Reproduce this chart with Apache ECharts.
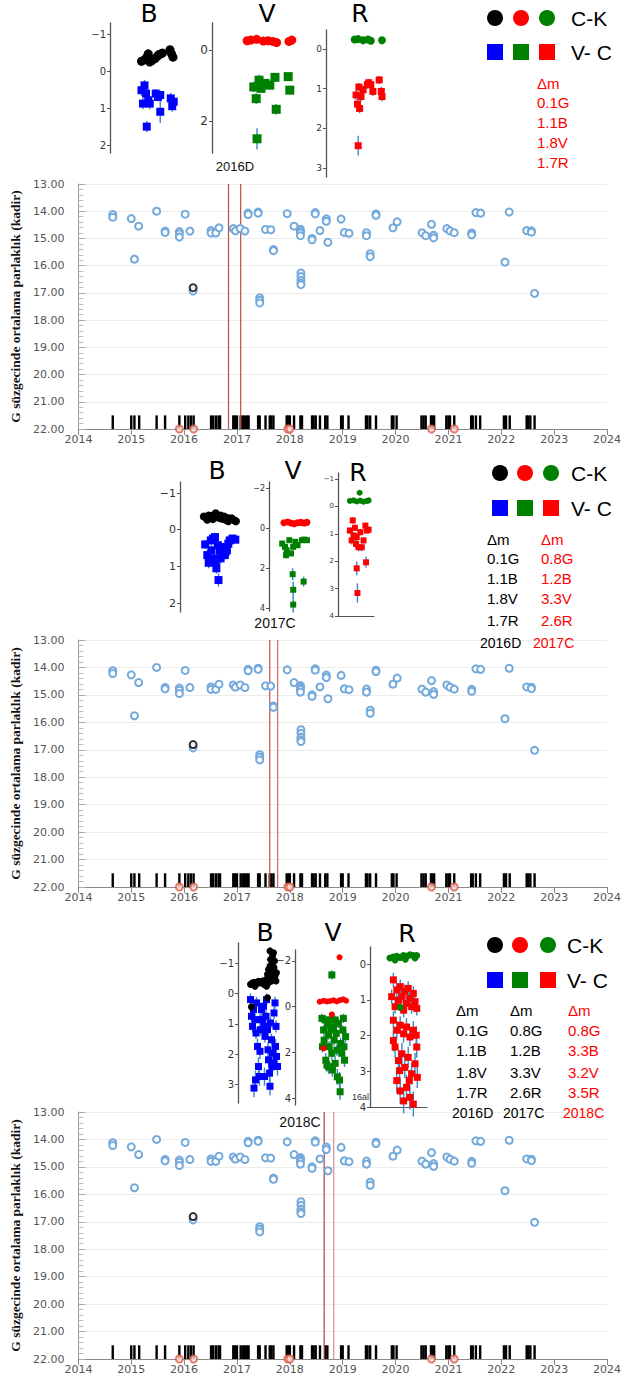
<!DOCTYPE html>
<html><head><meta charset="utf-8">
<script src="https://cdn.jsdelivr.net/npm/echarts@6/dist/echarts.min.js"></script>
<style>html,body{margin:0;padding:0;background:#fff}#c{width:627px;height:1380px}</style>
</head><body><div id="c"></div><script>
// ---------- main light-curve data (year, G mag) ----------
const gaiaMag = [
[2014.65,14.12],[2014.65,14.22],[2015.0,14.27],[2015.06,15.76],[2015.14,14.55],[2015.48,14.0],[2015.64,14.73],[2015.64,14.78],
[2015.91,14.75],[2015.91,14.83],[2015.91,14.95],[2016.02,14.11],[2016.11,14.73],[2016.17,16.93],[2016.51,14.71],[2016.51,14.8],
[2016.6,14.8],[2016.66,14.61],[2016.93,14.64],[2016.97,14.72],[2017.06,14.64],[2017.15,14.73],[2017.21,14.07],[2017.21,14.12],
[2017.4,14.03],[2017.4,14.07],[2017.43,17.18],[2017.43,17.27],[2017.43,17.37],[2017.54,14.67],[2017.64,14.68],[2017.69,15.41],
[2017.69,15.45],[2017.95,14.09],[2018.08,14.55],[2018.2,14.66],[2018.2,14.73],[2018.2,14.8],[2018.2,14.9],[2018.21,16.27],
[2018.21,16.4],[2018.21,16.54],[2018.21,16.64],[2018.21,16.7],[2018.42,15.0],[2018.42,15.05],[2018.48,14.05],[2018.48,14.1],
[2018.57,14.71],[2018.69,14.28],[2018.69,14.37],[2018.72,15.14],[2018.97,14.29],[2019.03,14.78],[2019.12,14.81],[2019.45,14.79],
[2019.45,14.9],[2019.52,15.56],[2019.52,15.67],[2019.63,14.1],[2019.63,14.15],[2019.95,14.61],[2020.03,14.39],[2020.5,14.79],
[2020.57,14.9],[2020.68,14.48],[2020.72,14.88],[2020.72,14.98],[2020.97,14.64],[2021.03,14.72],[2021.11,14.79],[2021.44,14.8],
[2021.44,14.87],[2021.52,14.05],[2021.61,14.07],[2022.07,15.87],[2022.15,14.03],[2022.48,14.71],[2022.57,14.72],[2022.57,14.77],
[2022.63,17.02]];
const highlightPt = [[2016.17,16.81]];
const obsTimes = [2014.65,2015.0,2015.06,2015.15,2015.48,2015.64,2015.91,2016.02,2016.08,2016.13,2016.18,2016.51,2016.55,2016.6,
2016.65,2016.68,2016.93,2016.96,2017.0,2017.07,2017.11,2017.15,2017.19,2017.22,2017.4,2017.43,2017.54,2017.62,2017.65,2017.69,
2017.94,2017.97,2018.0,2018.08,2018.2,2018.23,2018.42,2018.45,2018.49,2018.57,2018.67,2018.71,2018.97,2019.0,2019.11,2019.44,
2019.47,2019.52,2019.63,2019.93,2019.96,2020.02,2020.49,2020.53,2020.57,2020.67,2020.7,2020.73,2020.96,2021.0,2021.03,2021.11,
2021.43,2021.46,2021.52,2021.6,2022.05,2022.09,2022.16,2022.48,2022.51,2022.55,2022.63];
const alertTimes = [2015.91,2016.18,2017.96,2018.0,2020.68,2021.11];
const eventLines = [[2016.84,2017.07],[2017.62,2017.77],[2018.65,2018.83]];
const eventNames = ['2016D','2017C','2018C'];

// ---------- inset data [x(%), mag, err] ----------
const p1B_ck = [[42,-0.27,0.05],[46,-0.31,0.05],[49,-0.38,0.05],[51,-0.47,0.05],[53,-0.25,0.05],[56,-0.29,0.05],[60,-0.34,0.05],
[63,-0.40,0.05],[65,-0.45,0.05],[68,-0.47,0.05],[70,-0.49,0.05],[80,-0.58,0.05],[82,-0.47,0.05],[84,-0.38,0.05]];
const p1B_vc = [[42,0.51,0.15],[46,0.38,0.15],[48,0.60,0.2],[44,0.87,0.15],[51,0.78,0.15],[53,0.87,0.15],[49,1.49,0.15],
[61,0.60,0.12],[64,0.69,0.12],[67,0.64,0.12],[67,1.09,0.3],[81,0.73,0.15],[83,0.94,0.15],[85,0.82,0.15]];
const p1V_ck = [[37,-0.26,0.04],[41,-0.28,0.04],[47,-0.30,0.04],[54,-0.25,0.04],[59,-0.26,0.04],[64,-0.24,0.04],[68,-0.21,0.04],
[81,-0.24,0.04],[84,-0.28,0.04]];
const p1V_vc = [[44,1.04,0.15],[46.5,1.37,0.15],[49.5,0.85,0.15],[51.6,1.08,0.12],[55.8,0.94,0.12],[60.8,0.99,0.12],[66.3,0.77,0.12],
[80.2,0.75,0.1],[81.9,1.13,0.12],[67.6,1.67,0.15],[47.4,2.5,0.3]];
const p1R_ck = [[41,-0.24,0.03],[46,-0.25,0.03],[53,-0.22,0.03],[60,-0.24,0.03],[64,-0.21,0.03],[80,-0.22,0.03]];
const p1R_vc = [[43,1.16,0.12],[45,1.39,0.12],[48,1.5,0.12],[47,0.96,0.1],[50,1.2,0.12],[53,1.03,0.1],[59,0.9,0.1],[61,0.85,0.1],
[64,0.9,0.1],[67,1.07,0.12],[76,0.78,0.1],[79,1.07,0.12],[80,1.2,0.12],[46,2.44,0.25]];

const p2B_ck = [[34,-0.36,0.04],[38,-0.32,0.04],[41,-0.39,0.04],[45,-0.34,0.04],[49,-0.41,0.04],[51,-0.45,0.04],[54,-0.34,0.04],
[57,-0.32,0.04],[60,-0.30,0.04],[63,-0.36,0.04],[65,-0.27,0.04],[68,-0.32,0.04],[71,-0.28,0.04],[74,-0.31,0.04],[78,-0.25,0.04],
[80,-0.23,0.04],[39,-0.27,0.04],[47,-0.29,0.04],[58,-0.39,0.04],[69,-0.23,0.04]];
const p2B_vc = [[36,0.40,0.12],[39,0.69,0.15],[41,0.90,0.15],[45,0.56,0.15],[47,0.24,0.12],[50,0.20,0.12],[49,0.78,0.15],
[52,1.05,0.15],[55,1.37,0.18],[54,0.42,0.12],[57,0.56,0.12],[59,0.65,0.12],[62,0.47,0.12],[64,0.69,0.12],[67,0.56,0.12],
[69,0.38,0.12],[71,0.29,0.12],[75,0.24,0.1],[79,0.27,0.1],[44,0.29,0.12],[51,0.87,0.15],[58,0.78,0.15],[65,0.60,0.12]];
const p2V_ck = [[27,-0.26,0.04],[34,-0.30,0.04],[40,-0.25,0.04],[46,-0.21,0.04],[52,-0.26,0.04],[58,-0.28,0.04],[64,-0.25,0.04],[69,-0.28,0.04]];
const p2V_vc = [[24,0.78,0.15],[29,0.94,0.15],[32,1.11,0.15],[37,0.61,0.12],[40,1.27,0.15],[44,0.94,0.15],[48,0.69,0.12],
[52,0.86,0.12],[60,0.61,0.12],[64,0.58,0.12],[69,0.61,0.12],[31,1.36,0.15],[43,2.31,0.3],[44,3.09,0.4],[44,3.83,0.4],[63,2.68,0.25]];
const p2R_ck = [[33,-0.20,0.03],[43,-0.22,0.03],[52,-0.18,0.03],[62,-0.21,0.03],[71,-0.17,0.03],[80,-0.20,0.03],[85,-0.22,0.03],[60,-0.50,0.03]];
const p2R_vc = [[33,0.88,0.12],[38,1.24,0.15],[43,1.06,0.12],[47,0.78,0.12],[52,1.12,0.15],[57,1.49,0.15],[62,0.94,0.12],
[66,1.49,0.15],[71,1.24,0.12],[76,0.70,0.1],[80,0.88,0.12],[85,0.85,0.12],[41,0.51,0.12],[50,1.37,0.15],[52,2.26,0.25],
[78,2.04,0.2],[54,3.16,0.35]];

const p3B_ck = [[25,-0.30,0.05],[29,-0.35,0.05],[33,-0.37,0.05],[37,-0.33,0.05],[41,-0.40,0.05],[45,-0.35,0.05],[49,-0.41,0.05],
[52,-0.30,0.05],[56,-0.46,0.05],[59,-0.63,0.05],[61,-0.79,0.05],[63,-0.52,0.05],[64,-0.90,0.05],[65,-1.12,0.05],[67,-0.68,0.05],
[69,-1.01,0.05],[71,-1.34,0.05],[72,-0.85,0.05],[74,-0.57,0.05],[76,-0.41,0.05],[64,-1.40,0.05],[69,-1.23,0.05],[73,-1.07,0.05],
[57,-0.24,0.05],[34,-0.24,0.05],[77,-0.68,0.05],[61,-0.35,0.05],[67,-0.41,0.05],[27,0.44,0.05],[59,0.14,0.05]];
const p3B_vc = [[25,0.20,0.2],[27,0.75,0.2],[29,1.08,0.2],[31,0.53,0.2],[34,0.86,0.2],[36,1.30,0.2],[37,0.31,0.2],[39,1.74,0.25],
[35,2.84,0.3],[32,3.11,0.3],[41,2.40,0.3],[43,2.73,0.3],[44,0.86,0.2],[45,1.19,0.2],[47,0.53,0.2],[49,0.86,0.2],[51,0.42,0.2],
[52,1.08,0.2],[54,1.41,0.2],[56,0.75,0.2],[57,0.20,0.2],[59,1.19,0.2],[60,1.85,0.25],[61,2.18,0.25],[63,2.62,0.3],[64,3.05,0.3],
[65,0.97,0.2],[67,1.52,0.2],[69,1.96,0.25],[71,2.29,0.25],[72,0.64,0.2],[74,0.31,0.2],[76,1.08,0.2],[77,2.07,0.25],[79,2.40,0.3],
[75,1.74,0.25],[68,2.40,0.3],[44,1.90,0.25],[53,2.73,0.3]];
const p3V_ck = [[45,-0.22,0.04],[52,-0.26,0.04],[58,-0.23,0.04],[64,-0.25,0.04],[70,-0.28,0.04],[76,-0.23,0.04],[82,-0.29,0.04],
[88,-0.32,0.04],[93,-0.26,0.04],[81,-2.16,0.05],[67,0.34,0.05],[52,1.82,0.05]];
const p3V_vc = [[67,-1.39,0.2],[49,0.51,0.2],[52,1.02,0.2],[53,1.46,0.25],[55,0.58,0.2],[56,2.34,0.3],[58,2.55,0.3],[59,0.73,0.2],
[61,1.24,0.2],[62,1.75,0.25],[64,0.58,0.2],[65,1.02,0.2],[67,2.04,0.3],[68,2.77,0.3],[70,0.88,0.2],[71,1.46,0.25],[73,0.58,0.2],
[75,1.17,0.2],[76,1.90,0.25],[77,3.07,0.35],[79,0.73,0.2],[81,3.21,0.35],[82,3.72,0.35],[83,1.61,0.25],[85,2.04,0.3],[87,1.02,0.2],
[88,0.51,0.2],[89,1.75,0.25],[90,2.34,0.3],[92,1.31,0.25],[61,2.63,0.3],[73,2.48,0.3],[50,1.75,0.25]];
const p3R_ck = [[35,-0.17,0.04],[41,-0.20,0.04],[47,-0.22,0.04],[53,-0.19,0.04],[59,-0.24,0.04],[64,-0.22,0.04],[70,-0.26,0.04],
[76,-0.24,0.04],[82,-0.24,0.04],[44,-0.12,0.04],[62,-0.14,0.04],[79,-0.17,0.04],[53,1.21,0.05]];
const p3R_vc = [[41,0.44,0.2],[38,0.91,0.2],[44,1.19,0.2],[47,0.72,0.2],[50,1.01,0.2],[53,0.63,0.2],[56,0.91,0.2],[59,1.29,0.2],
[61,0.77,0.2],[64,1.10,0.2],[67,0.68,0.2],[70,0.96,0.2],[73,1.19,0.2],[76,0.82,0.2],[79,1.05,0.2],[82,1.24,0.2],[41,1.57,0.25],
[47,1.85,0.25],[53,1.71,0.25],[59,1.95,0.25],[64,1.76,0.25],[70,2.04,0.25],[76,1.85,0.25],[81,1.99,0.25],[44,2.32,0.3],[50,2.70,0.3],
[56,2.51,0.3],[61,2.89,0.3],[67,2.61,0.3],[73,3.07,0.3],[79,2.79,0.3],[83,3.17,0.3],[47,3.26,0.35],[53,3.55,0.35],[59,3.83,0.35],
[64,3.45,0.35],[70,3.73,0.35],[76,3.92,0.35],[52,2.98,0.3],[69,3.26,0.3],[41,2.14,0.3],[82,2.32,0.3]];

const p1Ticks = {B:[-1,0,1,2], V:[0,2], R:[0,1,2,3]};
const p2Ticks = {B:[-1,0,1,2], V:[-2,0,2,4], R:[-1,0,1,2,3,4]};
const p3Ticks = {B:[-1,0,1,2,3], V:[-2,0,2,4], R:[0,1,2,3,4]};
const dmLabels = [
  ['0.1G','1.1B','1.8V','1.7R'],
  ['0.8G','1.2B','3.3V','2.6R'],
  ['0.8G','3.3B','3.2V','3.5R']];

// ---------- layout ----------
const mainTops = [184, 640, 1112];
const mainH = [245, 247, 247];
const lineColors = [['#b5504c','#b5504c'],['#c0504d','#c86a66'],['#a9433f','#d98c8a']];
const insets = [
 {l:110,t:23,w:75,h:130,min:-1.3,max:2.2,ticks:p1Ticks.B,ck:p1B_ck,vc:p1B_vc,cc:'#000',vcC:'#0000ff',fs:10,cs:9,ss:8,xl:false},
 {l:212,t:23,w:95,h:130,min:-0.76,max:2.9,ticks:p1Ticks.V,ck:p1V_ck,vc:p1V_vc,cc:'#ff0000',vcC:'#008000',fs:12,cs:9,ss:9,xl:false},
 {l:326,t:30,w:70,h:147,min:-0.48,max:3.23,ticks:p1Ticks.R,ck:p1R_ck,vc:p1R_vc,cc:'#008000',vcC:'#ff0000',fs:9,cs:8,ss:7,xl:false},
 {l:180,t:482,w:70,h:130,min:-1.3,max:2.24,ticks:p2Ticks.B,ck:p2B_ck,vc:p2B_vc,cc:'#000',vcC:'#0000ff',fs:11,cs:8,ss:8,xl:false},
 {l:269,t:482,w:55,h:129,min:-2.3,max:4.15,ticks:p2Ticks.V,ck:p2V_ck,vc:p2V_vc,cc:'#ff0000',vcC:'#008000',fs:8,cs:7,ss:6,xl:false},
 {l:338,t:473,w:36,h:143,min:-1.22,max:4,ticks:p2Ticks.R,ck:p2R_ck,vc:p2R_vc,cc:'#008000',vcC:'#ff0000',fs:7,cs:6,ss:6,xl:true},
 {l:238,t:943,w:50,h:160,min:-1.66,max:3.6,ticks:p3Ticks.B,ck:p3B_ck,vc:p3B_vc,cc:'#000',vcC:'#0000ff',fs:10,cs:7,ss:7,xl:false},
 {l:295,t:950,w:55,h:155,min:-2.48,max:4.3,ticks:p3Ticks.V,ck:p3V_ck,vc:p3V_vc,cc:'#ff0000',vcC:'#008000',fs:10,cs:6,ss:7,xl:false},
 {l:370,t:947,w:57,h:160,min:-0.48,max:4,ticks:p3Ticks.R,ck:p3R_ck,vc:p3R_vc,cc:'#008000',vcC:'#ff0000',fs:10,cs:7,ss:7,xl:true}
];

const grid = [], xAxis = [], yAxis = [], series = [];
const minus = v => v < 0 ? '\u2212' + (-v) : String(v);

// main charts
for (let i = 0; i < 3; i++) {
  grid.push({left:77, right:20, top:mainTops[i], height:mainH[i], containLabel:false});
  xAxis.push({gridIndex:i, type:'value', min:2014, max:2024, interval:1,
    axisLine:{onZero:false, lineStyle:{color:'#8a8a8a'}},
    axisTick:{show:true, length:6, lineStyle:{color:'#8a8a8a'}},
    axisLabel:{fontSize:11, color:'#555', margin:5, fontFamily:'DejaVu Sans', formatter:v=>String(v)},
    splitLine:{show:false}});
  yAxis.push({gridIndex:i, type:'value', inverse:true, min:13, max:22, interval:1,
    name:'G süzgecinde ortalama parlaklık (kadir)', nameLocation:'middle', nameGap:51,
    nameTextStyle:{fontFamily:'Liberation Serif', fontWeight:'bold', fontSize:13.5, color:'#111'},
    axisLine:{show:true, onZero:false, lineStyle:{color:'#9a9a9a'}},
    axisTick:{show:true, inside:true, length:7, lineStyle:{color:'#aaa'}},
    minorTick:{show:true, splitNumber:5, length:5, lineStyle:{color:'#bbb'}},
    axisLabel:{fontSize:11, color:'#555', margin:14, fontFamily:'DejaVu Sans', formatter:v=>v.toFixed(2)},
    splitLine:{show:true, lineStyle:{color:'#ececec'}}});
  series.push({type:'custom', xAxisIndex:i, yAxisIndex:i, data:obsTimes.map(t=>[t,21.5]), encode:{x:0,y:1}, silent:true, z:2,
    renderItem:(p,api)=>{const a=api.coord([api.value(0),21.5]), b=api.coord([api.value(0),22]);
      return {type:'rect', shape:{x:a[0]-1.2, y:a[1], width:2.4, height:b[1]-a[1]}, style:{fill:'#000'}};}});
  const cols = lineColors[i];
  series.push({type:'custom', xAxisIndex:i, yAxisIndex:i, data:eventLines[i].map((x,j)=>[x,13,j]), encode:{x:0,y:1}, silent:true, z:2,
    renderItem:(p,api)=>{const x=api.value(0); const a=api.coord([x,13]), b=api.coord([x,22]);
      return {type:'line', shape:{x1:a[0],y1:a[1],x2:b[0],y2:b[1]}, style:{stroke:cols[api.value(2)], lineWidth:1.2}};}});
  series.push({type:'scatter', xAxisIndex:i, yAxisIndex:i, data:gaiaMag, symbol:'circle', symbolSize:7, z:3,
    itemStyle:{color:'#fff', borderColor:'#74a9dc', borderWidth:2, opacity:1}});
  series.push({type:'scatter', xAxisIndex:i, yAxisIndex:i, data:highlightPt, symbol:'circle', symbolSize:7, z:4,
    itemStyle:{color:'#fff', borderColor:'#000', borderWidth:2}});
  series.push({type:'scatter', xAxisIndex:i, yAxisIndex:i, data:alertTimes.map(t=>[t,22]), symbol:'circle', symbolSize:7, z:5,
    itemStyle:{color:'#fbe3df', borderColor:'#dd5a48', borderWidth:2}});
}

// insets
insets.forEach((s, k) => {
  const gi = 3 + k;
  grid.push({left:s.l, top:s.t, width:s.w, height:s.h});
  xAxis.push({gridIndex:gi, type:'value', min:0, max:100, show:true,
    axisLine:{show:s.xl, onZero:false, lineStyle:{color:'#555', width:1.2}},
    axisTick:{show:false}, axisLabel:{show:false}, splitLine:{show:false}});
  yAxis.push({gridIndex:gi, type:'value', inverse:true, min:s.min, max:s.max,
    axisLine:{show:true, onZero:false, lineStyle:{color:'#555', width:1.3}},
    axisTick:{show:true, customValues:s.ticks, length:3, lineStyle:{color:'#555'}},
    axisLabel:{customValues:s.ticks, fontSize:s.fs, color:'#333', margin:4, fontFamily:'DejaVu Sans', formatter:minus},
    splitLine:{show:false}});
  const err = (data) => ({type:'custom', xAxisIndex:gi, yAxisIndex:gi, data, encode:{x:0,y:1}, silent:true, z:6,
    renderItem:(p,api)=>{const x=api.value(0), y=api.value(1), e=api.value(2);
      const a=api.coord([x,y-e]), b=api.coord([x,y+e]);
      return {type:'line', shape:{x1:a[0],y1:a[1],x2:b[0],y2:b[1]}, style:{stroke:'#3d85c6', lineWidth:1.4}};}});
  series.push(err(s.vc));
  series.push(err(s.ck));
  series.push({type:'scatter', xAxisIndex:gi, yAxisIndex:gi, data:s.vc, symbol:'rect', symbolSize:s.ss, z:7,
    itemStyle:{color:s.vcC, opacity:1}});
  series.push({type:'scatter', xAxisIndex:gi, yAxisIndex:gi, data:s.ck, symbol:'circle', symbolSize:s.cs, z:8,
    itemStyle:{color:s.cc, opacity:1}});
});

// graphic texts / legend
const g = [];
const txt = (text, x, y, size, fill, align, family, weight) => g.push({type:'text', z:100,
  style:{text, x, y, fill, font:(weight||'normal')+' '+size+'px "'+(family||'Liberation Sans')+'"',
    textAlign:align||'left', align:align||'left', textVerticalAlign:'middle', verticalAlign:'middle'}});
const titles = [[[149,13],[267,13],[360,13]],[[217,470],[293,470],[358,472]],[[265,932],[333,932],[407,933]]];
titles.forEach(row => ['B','V','R'].forEach((b,j)=>txt(b, row[j][0], row[j][1], 25, '#000', 'center', 'DejaVu Sans')));
const legends = [{cx:[495,521,547], cy:18, sy:52, tx:571},{cx:[500,525,551], cy:473, sy:508, tx:571},{cx:[495,520,548], cy:945, sy:980, tx:567}];
legends.forEach(L => {
  ['#000','#ff0000','#008000'].forEach((c,j)=>g.push({type:'circle', z:100, shape:{cx:L.cx[j], cy:L.cy, r:8}, style:{fill:c}}));
  ['#0000ff','#008000','#ff0000'].forEach((c,j)=>g.push({type:'rect', z:100, shape:{x:L.cx[j]-8, y:L.sy-8, width:16, height:16}, style:{fill:c}}));
  txt('C-K', L.tx, L.cy, 21, '#000');
  txt('V- C', L.tx, L.sy, 21, '#000');
});
// panel 1 Δm
txt('\u0394m', 537, 83, 15, '#ff0000');
dmLabels[0].forEach((t,j)=>txt(t, 537, [102,122,142,162][j], 15, '#ff0000'));
// panel 2 Δm
txt('\u0394m', 487, 539, 15, '#000'); txt('\u0394m', 541, 539, 15, '#ff0000');
[558,578,598,620].forEach((y,j)=>{txt(dmLabels[0][j], 487, y, 15, '#000'); txt(dmLabels[1][j], 541, y, 15, '#ff0000');});
txt('2016D', 480, 643, 14, '#000'); txt('2017C', 533, 643, 14, '#ff0000');
// panel 3 Δm
txt('\u0394m', 456, 1010, 15, '#000'); txt('\u0394m', 510, 1010, 15, '#000'); txt('\u0394m', 568, 1010, 15, '#ff0000');
[1030,1050,1072,1092].forEach((y,j)=>{txt(dmLabels[0][j], 456, y, 15, '#000'); txt(dmLabels[1][j], 510, y, 15, '#000'); txt(dmLabels[2][j], 568, y, 15, '#ff0000');});
txt('2016D', 452, 1113, 14, '#000'); txt('2017C', 503, 1113, 14, '#000'); txt('2018C', 563, 1113, 14, '#ff0000');
// event labels
txt(eventNames[0], 235, 166, 13, '#111', 'center');
txt(eventNames[1], 275, 623, 14, '#111', 'center');
txt(eventNames[2], 300, 1122, 14, '#111', 'center');
txt('16al', 352, 1097, 9, '#333', 'left');

const chart = echarts.init(document.getElementById('c'), null, {renderer:'svg'});
chart.setOption({animation:false, backgroundColor:'#fff', grid, xAxis, yAxis, series, graphic:{elements:g}});
</script></body></html>
